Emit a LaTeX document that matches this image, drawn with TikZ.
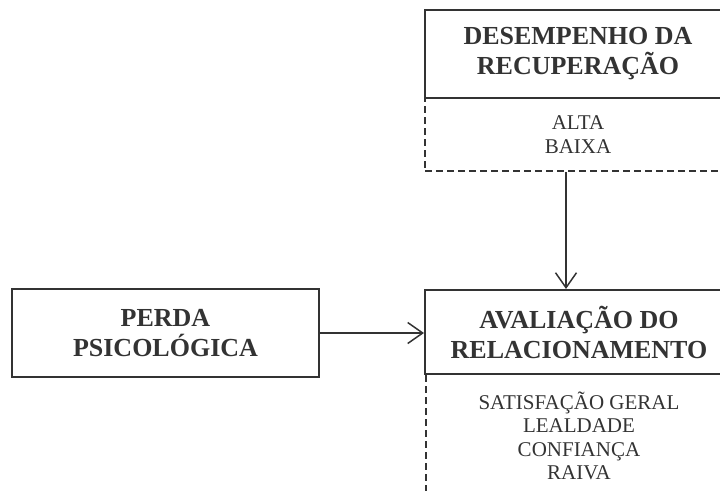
\documentclass[tikz,border=0pt]{standalone}
\usepackage{fontspec}
\setmainfont{Liberation Serif}
\usepackage{xcolor}
\definecolor{boxColor}{rgb}{0.2,0.2,0.2}
\usepackage{tikz}
\usetikzlibrary{arrows.meta}

\begin{document}
\begin{tikzpicture}[x=1pt,y=-1pt,line width=2pt,color=boxColor,
  titulo/.style={draw,minimum width=306pt,minimum height=88pt,inner sep=0pt,
    align=center,font=\fontsize{26}{30}\selectfont\bfseries},
  lista/.style={draw,dash pattern=on 7pt off 4pt,line width=1.5pt,
    minimum width=306pt,inner sep=0pt,align=center,
    font=\fontsize{21}{23.3}\selectfont},
  seta/.style={line width=1.5pt,-{Straight Barb[length=15pt,width=21pt]}}]
\useasboundingbox (0,0) rectangle (720,490);
\clip (0,0) rectangle (720,490);
%
\node[lista,minimum height=73pt] (recuperacao) at (578,134.5) {ALTA\\BAIXA};
\node[titulo] (desempenho) at (578,54) {DESEMPENHO DA\\RECUPERAÇÃO};
%
\node[lista,minimum height=124pt] (relacionamento) at (579,436)
  {SATISFAÇÃO GERAL\\LEALDADE\\CONFIANÇA\\RAIVA};
\node[titulo,minimum width=308pt,minimum height=84pt] (avaliacao) at (579,332)
  {AVALIAÇÃO DO\\RELACIONAMENTO};
%
\node[titulo,minimum width=307pt] (perda) at (165.5,333) {PERDA\\PSICOLÓGICA};
%
\coordinate (eixo) at (566,0);
\draw[seta] (perda.east) -- (perda.east -| avaliacao.west);
\draw[seta] (recuperacao.south -| eixo) -- (avaliacao.north -| eixo);
\end{tikzpicture}
\end{document}
